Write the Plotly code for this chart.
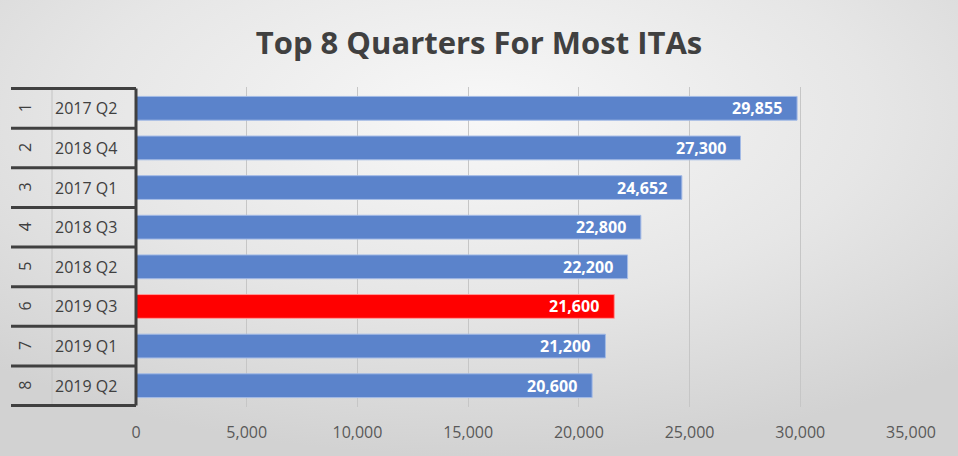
import base64
import plotly.graph_objects as go

ranks = ["1", "2", "3", "4", "5", "6", "7", "8"]
quarters = ["2017 Q2", "2018 Q4", "2017 Q1", "2018 Q3", "2018 Q2", "2019 Q3", "2019 Q1", "2019 Q2"]
itas = [29855, 27300, 24652, 22800, 22200, 21600, 21200, 20600]
highlight = "2019 Q3"
title_text = "Top 8 Quarters For Most ITAs"
x_ticks = [0, 5000, 10000, 15000, 20000, 25000, 30000, 35000]

W, H = 958, 456
ML, MR, MT, MB = 136, 47, 87, 49
PW = W - ML - MR
PH = H - MT - MB

BLUE = "#5b83cb"
BLUE_EDGE = "#a4bbe6"
RED = "#ff0000"
RED_EDGE = "#ff9a9a"
DARK = "#404040"

colors = [RED if q == highlight else BLUE for q in quarters]
edges = [RED_EDGE if q == highlight else BLUE_EDGE for q in quarters]

fig = go.Figure()
fig.add_trace(go.Bar(
    x=itas, y=quarters, orientation="h",
    marker=dict(color=colors, line=dict(color=edges, width=1)),
    hoverinfo="x+y",
))

# background gradient
svg = f'''<svg xmlns="http://www.w3.org/2000/svg" width="{W}" height="{H}" viewBox="0 0 {W} {H}" preserveAspectRatio="none">
<defs><radialGradient id="g" cx="0.5" cy="0.25" r="0.75" gradientUnits="objectBoundingBox">
<stop offset="0" stop-color="#f8f8f8"/><stop offset="0.55" stop-color="#e6e6e6"/><stop offset="1" stop-color="#d2d2d2"/>
</radialGradient></defs><rect width="{W}" height="{H}" fill="url(#g)"/></svg>'''
src = "data:image/svg+xml;base64," + base64.b64encode(svg.encode()).decode()

px2x = lambda px: (px - ML) / PW
px2y = lambda py: 1 - (py - MT) / PH

images = [dict(source=src, xref="paper", yref="paper", x=px2x(0), y=px2y(0),
               sizex=W / PW, sizey=H / PH, sizing="stretch", layer="below",
               xanchor="left", yanchor="top")]

shapes = []
annotations = []
n = len(quarters)
# category divider lines
for i in range(n + 1):
    shapes.append(dict(type="line", xref="paper", yref="y",
                       x0=px2x(11), x1=0, y0=i - 0.5, y1=i - 0.5,
                       line=dict(color=DARK, width=3)))
# thin separator between rank and quarter columns
shapes.append(dict(type="line", xref="paper", yref="y",
                   x0=px2x(52), x1=px2x(52), y0=-0.5, y1=n - 0.5,
                   line=dict(color="#c4c4c4", width=1), layer="below"))
# axis line
shapes.append(dict(type="line", xref="paper", yref="y",
                   x0=0, x1=0, y0=-0.5, y1=n - 0.5,
                   line=dict(color=DARK, width=3)))

for r, q, v in zip(ranks, quarters, itas):
    annotations.append(dict(x=px2x(86), xref="paper", y=q, yref="y", text=q,
                            xanchor="center", yanchor="middle",
                            showarrow=False, font=dict(size=16, color=DARK, family="Open Sans")))
    annotations.append(dict(x=px2x(25), xref="paper", y=q, yref="y", text=r, textangle=-90,
                            xanchor="center", yanchor="middle",
                            showarrow=False, font=dict(size=16, color=DARK, family="Open Sans")))
    annotations.append(dict(x=v, xref="x", y=q, yref="y", text=f"{v:,}",
                            xanchor="right", xshift=-13, showarrow=False,
                            font=dict(size=16, color="white", family="Open Sans", weight="bold")))

fig.update_layout(
    width=W, height=H,
    margin=dict(l=ML, r=MR, t=MT, b=MB),
    paper_bgcolor="#e4e4e4", plot_bgcolor="rgba(0,0,0,0)",
    title=dict(text=f"<b>{title_text}</b>", x=0.5, xanchor="center", y=1 - 43 / H, yanchor="middle",
               font=dict(size=31, color=DARK, family="Open Sans")),
    bargap=0.4,
    showlegend=False,
    images=images, shapes=shapes, annotations=annotations,
    xaxis=dict(range=[0, 35000], tickvals=x_ticks, ticktext=[f"{t:,}" for t in x_ticks],
               showgrid=True, gridcolor="#c6c6c6", gridwidth=1, zeroline=False,
               showline=False, ticks="", ticklabelstandoff=14,
               tickfont=dict(size=16, color="#595959", family="Open Sans")),
    yaxis=dict(categoryorder="array", categoryarray=quarters, autorange="reversed",
               showticklabels=False, showgrid=False, zeroline=False, ticks=""),
)

fig.write_html("out.html", config={"displayModeBar": False},
               post_script="document.body.style.margin='0';document.body.style.overflow='hidden';")
